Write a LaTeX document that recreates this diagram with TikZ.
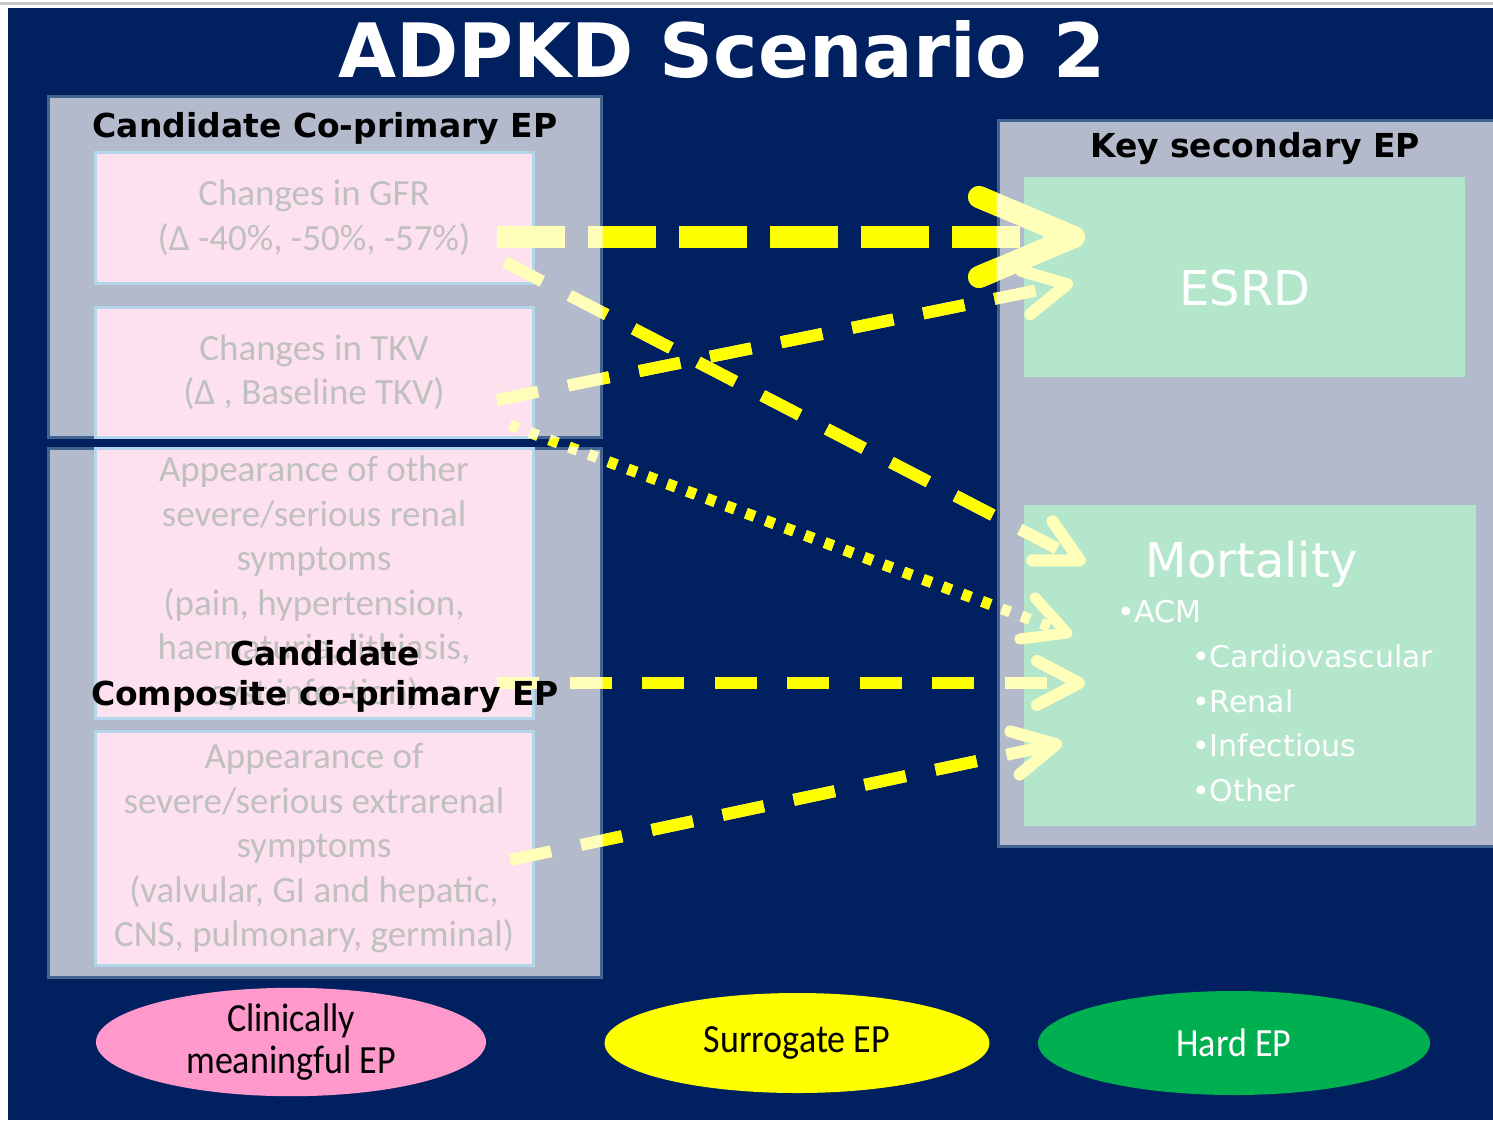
\documentclass[tikz,border=0pt]{standalone}
\usepackage{fontspec}
\usepackage{tikz}
\usetikzlibrary{shapes.geometric,arrows.meta}
\setmainfont{DejaVu Sans}
\newfontfamily\calfont{Carlito}
\newfontfamily\legfont[FakeStretch=0.9]{Carlito}
\definecolor{slidenavy}{RGB}{0,32,96}
\definecolor{panelgrey}{RGB}{179,186,204}
\definecolor{paneledge}{RGB}{65,100,145}
\definecolor{eppink}{RGB}{253,225,238}
\definecolor{eppinkedge}{RGB}{180,214,236}
\definecolor{epgreen}{RGB}{180,230,204}
\definecolor{fadedtext}{RGB}{192,192,192}
\definecolor{linkyellow}{RGB}{255,255,0}
\definecolor{linkpale}{RGB}{255,255,185}
\definecolor{legpink}{RGB}{255,153,204}
\definecolor{leggreen}{RGB}{0,176,80}

% the six links, drawn once pale and once bright
\newcommand{\drawlinks}[1]{%
    \draw[thicklink, draw=#1] (gfrA) -- (esrdA);
    \draw[thinlink, draw=#1] (tkvA) -- (esrdB);
    \draw[thinlink, draw=#1] (gfrB) -- (mortA);
    \draw[dotlink, draw=#1] (tkvB) -- (mortB);
    \draw[thinlink, draw=#1] (compA) -- (mortC);
    \draw[thinlink, draw=#1] (extraA) -- (mortD);
}

\begin{document}
\begin{tikzpicture}[x=1pt, y=-1pt,
    panel/.style={draw=paneledge, line width=3pt, fill=panelgrey, rectangle, inner sep=0pt},
    epbox/.style={draw=eppinkedge, line width=3pt, fill=eppink, rectangle, inner sep=0pt,
        align=center, text=fadedtext, font=\calfont\fontsize{37}{44.5}\selectfont},
    hardbox/.style={fill=epgreen, rectangle, inner sep=0pt},
    heading/.style={font=\bfseries\fontsize{33}{40}\selectfont, align=center, inner sep=0pt},
    hardtext/.style={text=white, inner sep=0pt, font=\fontsize{48}{56}\selectfont},
    bullet/.style={text=white, inner sep=0pt, anchor=base west, font=\fontsize{30}{36}\selectfont},
    legend/.style={ellipse, inner sep=0pt, minimum width=390pt, minimum height=104pt,
        align=center, font=\legfont\fontsize{40}{42}\selectfont},
    thicklink/.style={line width=22pt, dash pattern=on 68pt off 23pt,
        -{Straight Barb[length=95pt, width=80pt, round]}},
    thinlink/.style={line width=12pt, dash pattern=on 42pt off 30.5pt,
        -{Straight Barb[length=42pt, width=44pt, round]}},
    dotlink/.style={line width=11pt, dash pattern=on 9pt off 12pt,
        -{Straight Barb[length=42pt, width=44pt, round]}}]

    \useasboundingbox (0,0) rectangle (1493,1120);
    \fill[white] (0,0) rectangle (1493,1120);
    \draw[line width=3pt, black!22] (0,3) -- (1493,3);
    \fill[slidenavy] (8,8) rectangle (1493,1120);

    \node[text=white, inner sep=0pt, font=\bfseries\fontsize{75}{80}\selectfont] (title) at (722,50) {ADPKD Scenario 2};

    % left panels
    \node[panel, minimum width=553pt, minimum height=341pt] (coprim) at (324.5,266.5) {};
    \node[panel, minimum width=553pt, minimum height=529pt] (compos) at (324.5,712.5) {};
    \node[heading, anchor=base] (coprimTitle) at (325,137) {Candidate Co-primary EP};

    \node[epbox, minimum width=438pt, minimum height=131pt] (gfr) at (314,217.5) {Changes in GFR\\(Δ -40\%, -50\%, -57\%)};
    \node[epbox, minimum width=438pt, minimum height=130pt] (tkv) at (314,372) {Changes in TKV\\(Δ , Baseline TKV)};
    \node[epbox, minimum width=438pt, minimum height=270pt] (renal) at (314,583) {Appearance of other\\severe/serious renal\\symptoms\\(pain, hypertension,\\haematuria, lithiasis,\\cyst infection)};
    \node[epbox, minimum width=438pt, minimum height=234pt] (extra) at (314,848) {Appearance of\\severe/serious extrarenal\\symptoms\\(valvular, GI and hepatic,\\CNS, pulmonary, germinal)};

    % right panel
    \node[panel, minimum width=510pt, minimum height=726pt] (keysec) at (1253,483) {};
    \node[heading, anchor=base] (keysecTitle) at (1255,157) {Key secondary EP};
    \node[hardbox, minimum width=441pt, minimum height=200pt] (esrd) at (1244.5,277) {};
    \node[hardtext] (esrdTxt) at (1245,288) {ESRD};
    \node[hardbox, minimum width=452pt, minimum height=321pt] (mort) at (1250,665.5) {};
    \node[hardtext, anchor=base] (mortTxt) at (1252,577) {Mortality};
    \node[bullet] (acm) at (1117,622) {•ACM};
    \node[bullet] (cardio) at (1192,667) {•Cardiovascular};
    \node[bullet] (renalD) at (1192,712) {•Renal};
    \node[bullet] (infect) at (1192,756) {•Infectious};
    \node[bullet] (other) at (1192,801) {•Other};

    % legend
    \node[legend, fill=legpink] (legClin) at (291,1042) {Clinically\\meaningful EP};
    \node[legend, fill=linkyellow, minimum width=385pt, minimum height=100pt] (legSurr) at (797,1043) {Surrogate EP};
    \node[legend, fill=leggreen, text=white, minimum width=392pt] (legHard) at (1234,1043) {Hard EP};

    % link ends
    \coordinate (gfrA) at (497,237);
    \coordinate (esrdA) at (1085,237);
    \coordinate (tkvA) at (497,400);
    \coordinate (esrdB) at (1073,283);
    \coordinate (gfrB) at (505,262);
    \coordinate (mortA) at (1085,563);
    \coordinate (tkvB) at (510,425);
    \coordinate (mortB) at (1072,635);
    \coordinate (compA) at (497,683);
    \coordinate (mortC) at (1085,683);
    \coordinate (extraA) at (510,860);
    \coordinate (mortD) at (1062,743);

    \drawlinks{linkpale}
    \begin{scope}
        \clip (602.5,0) rectangle (996.5,1120) (49.5,438.5) rectangle (602.5,446.5);
        \drawlinks{linkyellow}
    \end{scope}

    \node[heading] (composTitle) at (325,677) {Candidate\\Composite co-primary EP};
\end{tikzpicture}
\end{document}
